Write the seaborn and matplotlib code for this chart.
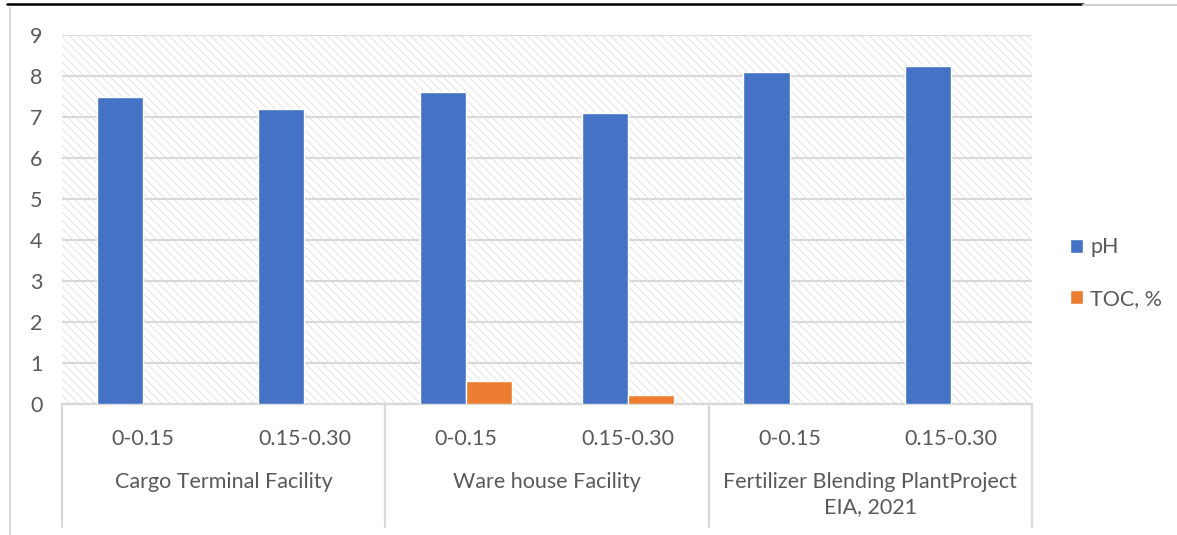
"""
Soil pH and TOC by depth at three facilities.
"""

import matplotlib.pyplot as plt
import matplotlib.patches as mpatches
import matplotlib.transforms as mtransforms
import seaborn as sns
import pandas as pd

facilities = ['Cargo Terminal Facility', 'Ware house Facility',
              'Fertilizer Blending PlantProject\nEIA, 2021']
depths = ['0-0.15', '0.15-0.30']
ph = [7.5, 7.2, 7.6, 7.1, 8.1, 8.25]
toc = [0, 0, 0.57, 0.23, 0, 0]
series = ['pH', 'TOC, %']
colors = ['#4472C4', '#ED7D31']

slots = [f'{f}|{d}' for f in facilities for d in depths]
df = pd.DataFrame({
    'slot': slots * 2,
    'series': [series[0]] * len(slots) + [series[1]] * len(slots),
    'value': ph + toc,
})

sns.set_style('white')
plt.rcParams['font.family'] = ['Lato', 'DejaVu Sans']
plt.rcParams['hatch.linewidth'] = 0.6
txt = '#595959'
grid = '#D9D9D9'
fs = 15.5

fig = plt.figure(figsize=(11.77, 5.35), dpi=100)
ax = fig.add_axes([62 / 1177, 1 - 404 / 535, 970 / 1177, 369 / 535])

# hatched plot background
ax.add_patch(mpatches.Rectangle((0, 0), 1, 1, transform=ax.transAxes, facecolor='white',
                                edgecolor='#DEDEDE', hatch='\\\\\\\\', lw=0, zorder=0))

sns.barplot(data=df, x='slot', y='value', hue='series', palette=colors, width=0.57,
            saturation=1, ax=ax, zorder=3, legend=True)

ax.set_ylim(0, 9)
ax.set_xlim(-0.5, 5.5)
ax.set_yticks(range(10))
ax.yaxis.grid(True, color=grid, lw=1.6, zorder=1)
ax.set_axisbelow(True)
for s in ['left', 'right', 'top']:
    ax.spines[s].set_visible(False)
ax.spines['bottom'].set_color(grid)
ax.spines['bottom'].set_linewidth(1.6)
ax.tick_params(axis='both', length=0, labelsize=fs, colors=txt)
ax.tick_params(axis='y', pad=14)
ax.tick_params(axis='x', pad=18)
ax.set_xticks(range(6))
ax.set_xticklabels([d for f in facilities for d in depths])
ax.set_xlabel('')
ax.set_ylabel('')

# category group separators and labels
tr = mtransforms.blended_transform_factory(ax.transData, ax.transAxes)
for x in [-0.5, 1.5, 3.5, 5.5]:
    ax.plot([x, x], [0, -123 / 369], transform=tr, color=grid, lw=1.6, clip_on=False)
for i, f in enumerate(facilities):
    ax.text(2 * i + 0.5, -68 / 369, f, transform=tr, ha='center', va='top',
            fontsize=fs, color=txt, linespacing=1.3)

leg = ax.legend(loc='center left', bbox_to_anchor=(1070 / 1177, 1 - 273 / 535),
                bbox_transform=fig.transFigure,
                frameon=False, fontsize=fs, handlelength=0.6, handleheight=0.6,
                handletextpad=0.35, labelspacing=1.45, borderaxespad=0, borderpad=0)
for t in leg.get_texts():
    t.set_color(txt)

# page rule and chart border remnants
fig.add_artist(plt.Line2D([7 / 1177, 1083 / 1177], [1 - 4 / 535] * 2, color='black', lw=1.8))
fig.add_artist(plt.Line2D([1083 / 1177, 1], [1 - 5 / 535] * 2, color='#D0D0D0', lw=1.5))
fig.add_artist(plt.Line2D([10 / 1177] * 2, [0, 1 - 8 / 535], color='#D9D9D9', lw=1.5))

plt.savefig('out.png', dpi=100)
